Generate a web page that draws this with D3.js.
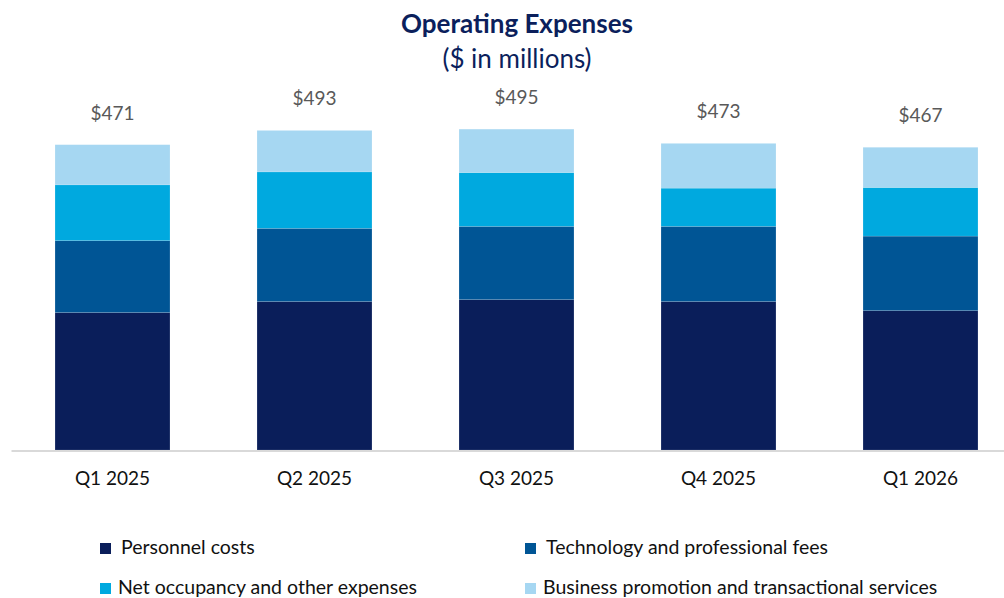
<!DOCTYPE html>
<html lang="en">
<head>
    <meta charset="UTF-8">
    <title>Operating Expenses</title>
    <style>
        body {
            margin: 0;
            background: #ffffff;
            font-family: Lato, "Open Sans", sans-serif;
        }
        .title {
            fill: #0b1f5c;
            font-weight: bold;
        }
        .subtitle {
            fill: #0b1f5c;
        }
        .total-label {
            fill: #595959;
        }
        .axis-label, .legend-text {
            fill: #111111;
        }
    </style>
</head>
<body>
    <div id="chart"></div>

    <script src="https://d3js.org/d3.v7.min.js"></script>
    <script>
        // Quarters on the x axis
        var quarters = ["Q1 2025", "Q2 2025", "Q3 2025", "Q4 2025", "Q1 2026"];

        // Series values ($ in millions)
        var personnel = [212, 229, 232, 229, 215];
        var technology = [111, 113, 113, 116, 115];
        var occupancy = [86, 87, 83, 59, 75];
        var businessPromo = [62, 64, 67, 69, 62];

        // Totals printed above each bar
        var totals = [471, 493, 495, 473, 467];

        var seriesNames = [
            "Personnel costs",
            "Technology and professional fees",
            "Net occupancy and other expenses",
            "Business promotion and transactional services"
        ];
        var seriesColors = ["#0a1e5a", "#005595", "#00a9df", "#a6d7f2"];

        var width = 1004;
        var height = 598;
        var baseline = 450;

        var svg = d3.select("#chart")
            .append("svg")
            .attr("width", width)
            .attr("height", height);

        // build a table the stack layout can use
        var keys = ["personnel", "technology", "occupancy", "business"];
        var table = quarters.map(function(q, i) {
            return {
                quarter: q,
                personnel: personnel[i],
                technology: technology[i],
                occupancy: occupancy[i],
                business: businessPromo[i],
                total: totals[i]
            };
        });

        var stacked = d3.stack().keys(keys)(table);

        // the original slide is cut off on the right, so the band range runs past the edge
        var x = d3.scaleBand()
            .domain(quarters)
            .range([11.5, 1021.5])
            .paddingInner(0.431)
            .paddingOuter(0.2155);

        var y = d3.scaleLinear()
            .domain([0, 500])
            .range([baseline, baseline - 500 * 0.6482]);

        var color = d3.scaleOrdinal().domain(keys).range(seriesColors);

        // stacked bars
        svg.selectAll(".series")
            .data(stacked)
            .enter()
            .append("g")
            .attr("class", "series")
            .attr("fill", function(d) { return color(d.key); })
            .selectAll("rect")
            .data(function(d) { return d; })
            .enter()
            .append("rect")
            .attr("x", function(d) { return x(d.data.quarter); })
            .attr("y", function(d) { return y(d[1]); })
            .attr("width", x.bandwidth())
            .attr("height", function(d) { return y(d[0]) - y(d[1]); })
            .attr("stroke", "rgba(255,255,255,0.25)")
            .attr("stroke-width", 0.5);

        // baseline axis line
        svg.append("line")
            .attr("x1", 11.5)
            .attr("x2", width)
            .attr("y1", baseline + 1)
            .attr("y2", baseline + 1)
            .attr("stroke", "#d9d9d9")
            .attr("stroke-width", 2);

        // category labels
        var xAxis = d3.axisBottom(x).tickSize(0).tickPadding(0);
        var axisG = svg.append("g")
            .attr("transform", "translate(0," + baseline + ")")
            .call(xAxis);
        axisG.select(".domain").remove();
        axisG.selectAll("text")
            .attr("class", "axis-label")
            .attr("dy", null)
            .attr("y", 35)
            .attr("fill", null)
            .style("font-family", "Lato, 'Open Sans', sans-serif")
            .style("font-size", "19px");

        // totals above the bars
        svg.selectAll(".total-label")
            .data(table)
            .enter()
            .append("text")
            .attr("class", "total-label")
            .attr("x", function(d) { return x(d.quarter) + x.bandwidth() / 2; })
            .attr("y", function(d) { return y(d.total) - 25; })
            .attr("text-anchor", "middle")
            .style("font-size", "19px")
            .text(function(d) { return "$" + d.total; });

        // title
        svg.append("text")
            .attr("class", "title")
            .attr("x", 517)
            .attr("y", 33)
            .attr("text-anchor", "middle")
            .style("font-size", "26px")
            .text("Operating Expenses");

        svg.append("text")
            .attr("class", "subtitle")
            .attr("x", 517)
            .attr("y", 68)
            .attr("text-anchor", "middle")
            .style("font-size", "26px")
            .text("($ in millions)");

        // legend, two columns by two rows
        var legend = svg.selectAll(".legend-item")
            .data(seriesNames)
            .enter()
            .append("g")
            .attr("class", "legend-item")
            .attr("transform", function(d, i) {
                var col = i % 2;
                var row = Math.floor(i / 2);
                return "translate(" + (100 + col * 425) + "," + (543 + row * 40) + ")";
            });

        legend.append("rect")
            .attr("width", 11)
            .attr("height", 11)
            .attr("fill", function(d, i) { return seriesColors[i]; });

        legend.append("text")
            .attr("class", "legend-text")
            .attr("x", function(d, i) { return i < 2 ? 21 : 18; })
            .attr("y", 11)
            .style("font-size", "19.5px")
            .text(function(d) { return d; });
    </script>
</body>
</html>
